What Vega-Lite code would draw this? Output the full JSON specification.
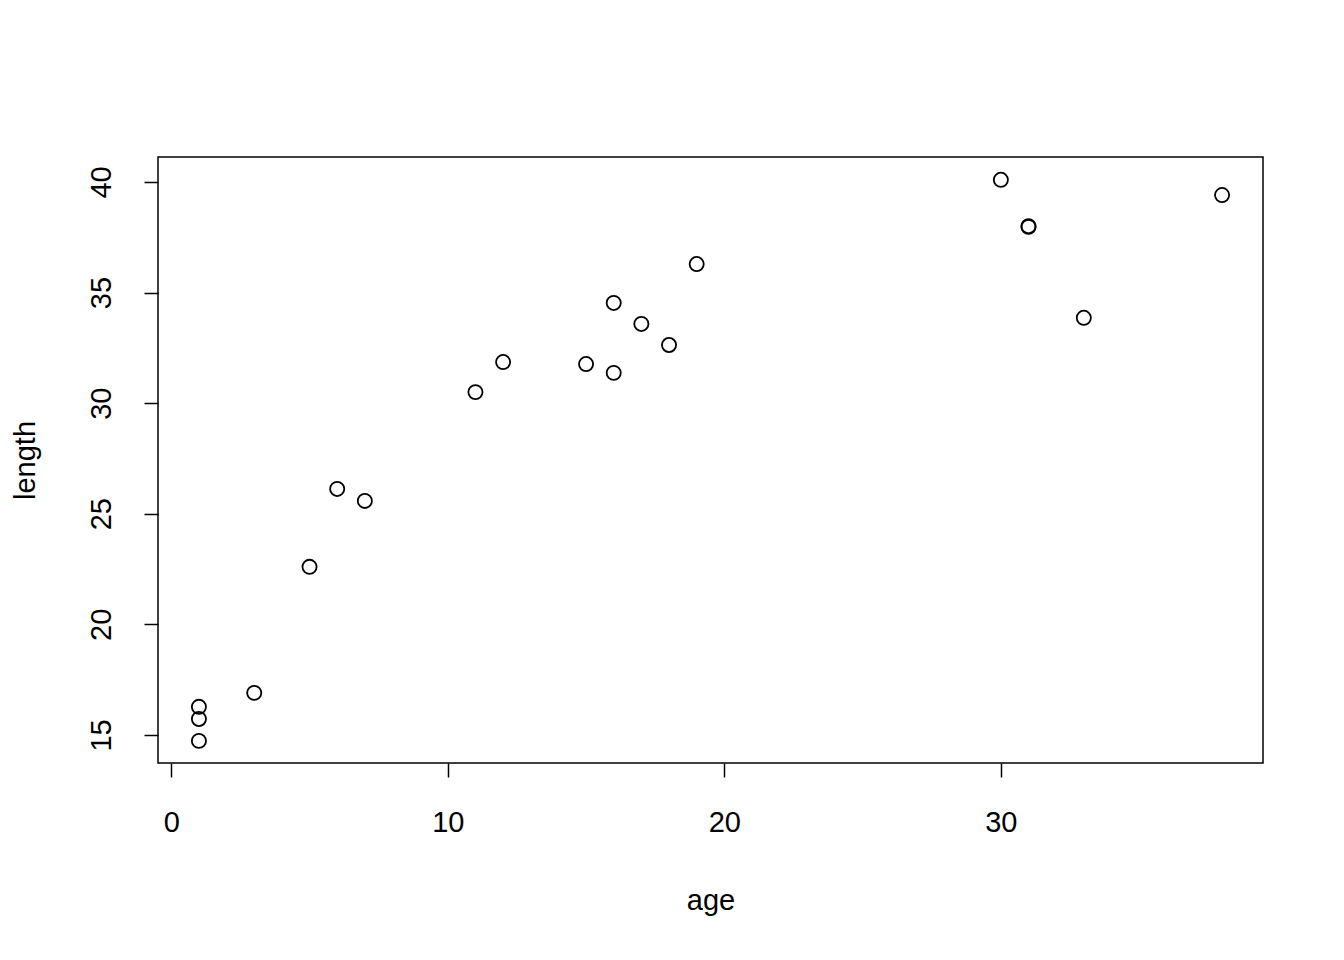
{
  "$schema": "https://vega.github.io/schema/vega-lite/v6.json",
  "width": 1105,
  "height": 606,
  "autosize": {"type": "none"},
  "padding": {"left": 158, "top": 157, "right": 81, "bottom": 197},
  "background": "white",
  "config": {
    "view": {"stroke": "black", "strokeWidth": 1.5},
    "font": "Liberation Sans",
    "axis": {
      "domain": false,
      "grid": false,
      "tickColor": "black",
      "tickWidth": 1.5,
      "tickSize": 14,
      "labelColor": "black",
      "labelFont": "Liberation Sans",
      "labelFontSize": 29,
      "titleFont": "Liberation Sans",
      "titleFontSize": 29,
      "titleFontWeight": "normal",
      "titleColor": "black"
    }
  },
  "data": {
    "values": [
      {"age": 1, "length": 14.73},
      {"age": 1, "length": 15.72},
      {"age": 1, "length": 16.27},
      {"age": 3, "length": 16.9},
      {"age": 5, "length": 22.6},
      {"age": 6, "length": 26.12},
      {"age": 7, "length": 25.58},
      {"age": 11, "length": 30.5},
      {"age": 12, "length": 31.86},
      {"age": 15, "length": 31.77},
      {"age": 16, "length": 34.53},
      {"age": 16, "length": 31.37},
      {"age": 17, "length": 33.58},
      {"age": 18, "length": 32.63},
      {"age": 19, "length": 36.29},
      {"age": 30, "length": 40.1},
      {"age": 31, "length": 37.97},
      {"age": 31, "length": 38.0},
      {"age": 33, "length": 33.86},
      {"age": 38, "length": 39.41}
    ]
  },
  "mark": {"type": "point", "filled": false, "stroke": "black", "strokeWidth": 1.8, "size": 200, "opacity": 1},
  "encoding": {
    "x": {
      "field": "age",
      "type": "quantitative",
      "scale": {"domain": [-0.48, 39.48], "nice": false, "zero": false},
      "axis": {
        "values": [0, 10, 20, 30],
        "title": "age",
        "labelBaseline": "middle",
        "labelPadding": 45,
        "titleY": 137,
        "titleBaseline": "middle"
      }
    },
    "y": {
      "field": "length",
      "type": "quantitative",
      "scale": {"domain": [13.73, 41.13], "nice": false, "zero": false},
      "axis": {
        "values": [15, 20, 25, 30, 35, 40],
        "title": "length",
        "labelAngle": 270,
        "labelAlign": "center",
        "labelBaseline": "middle",
        "labelPadding": 43,
        "titleX": -133,
        "titleBaseline": "middle"
      }
    }
  }
}
